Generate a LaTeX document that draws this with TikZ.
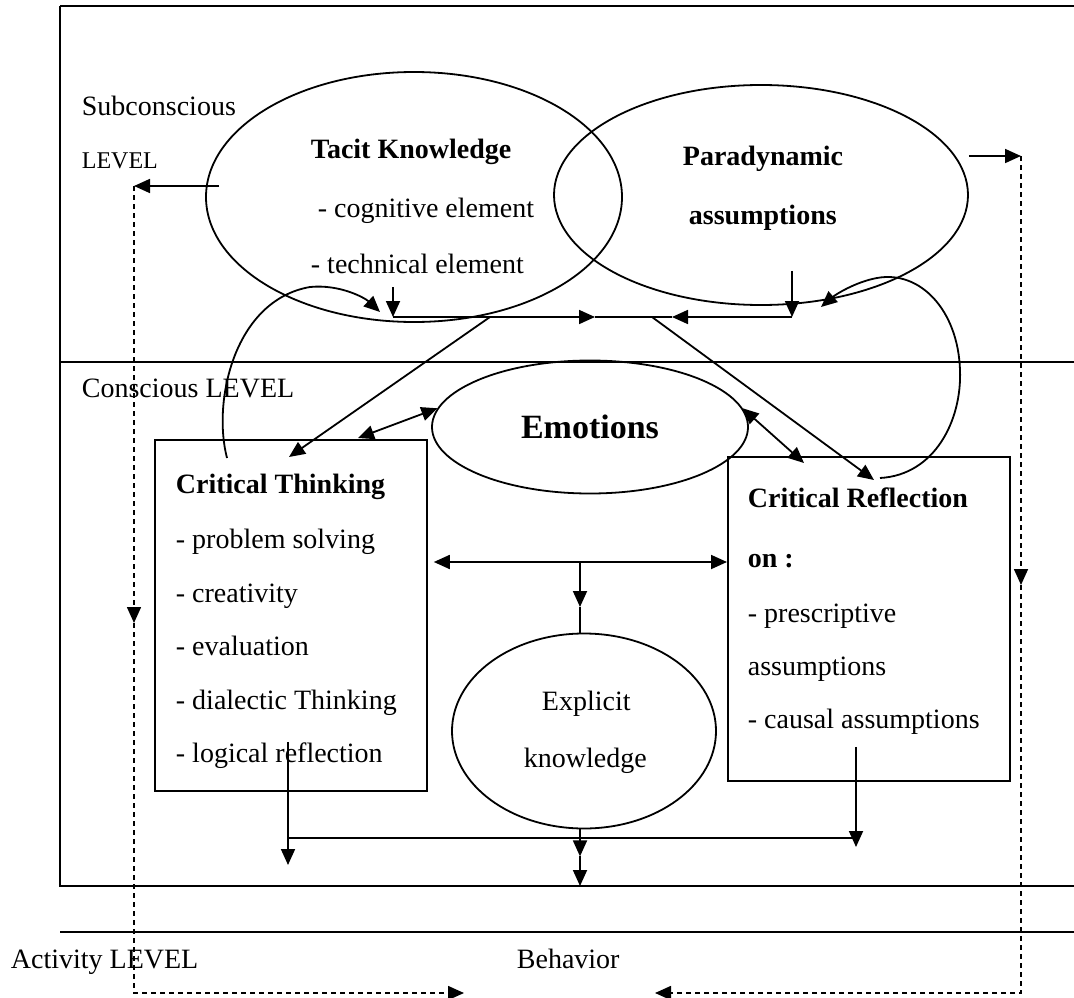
\documentclass[tikz,border=0pt]{standalone}
\usepackage{fontspec}
\setmainfont{Liberation Serif}
\usepackage{tikz}
\usetikzlibrary{arrows.meta,shapes.geometric,calc}

\begin{document}
\begin{tikzpicture}[
  x=1pt, y=-1pt,
  line width=1.8pt,
  oval/.style={draw, ellipse, inner sep=0pt},
  box/.style={draw, rectangle, inner sep=0pt, anchor=north west},
  txt/.style={anchor=base west, inner sep=0pt, font=\fontsize{28}{32}\selectfont},
  btxt/.style={txt, font=\fontsize{28}{32}\selectfont\bfseries},
  arrow/.style={-{Triangle[length=16pt,width=14pt]}},
  twoway/.style={{Triangle[length=16pt,width=14pt]}-{Triangle[length=16pt,width=14pt]}},
  dashline/.style={dash pattern=on 5pt off 4pt, line width=1.6pt}
]
\useasboundingbox (0,0) rectangle (1074,998);

% level frame
\draw (60,6) -- (1074,6);
\draw (60,6) -- (60,886) -- (1074,886);
\draw (60,362) -- (1074,362);
\draw (60,932) -- (1074,932);

\node[txt] (sub) at (81,115) {Subconscious};
\node[txt, font=\fontsize{24}{28}\selectfont] (sublvl) at (81,168) {LEVEL};
\node[txt] (con) at (81,397) {Conscious LEVEL};
\node[txt] (act) at (10,968) {Activity LEVEL};
\node[txt] (beh) at (516,968) {Behavior};

% subconscious
\node[oval, minimum width=416pt, minimum height=250pt] (tacit) at (414,197) {};
\node[oval, minimum width=414pt, minimum height=220pt] (para) at (761,195) {};
\node[btxt] (tk) at (310,158) {Tacit Knowledge};
\node[txt] (tk1) at (317,217) {- cognitive element};
\node[txt] (tk2) at (310,273) {- technical element};
\node[btxt] (pa) at (682,165) {Paradynamic};
\node[btxt] (pa2) at (688,224) {assumptions};

% conscious
\node[oval, minimum width=316pt, minimum height=133pt,
  font=\fontsize{34}{40}\selectfont\bfseries] (emo) at (590,427) {Emotions};
\node[oval, minimum width=264pt, minimum height=195pt] (expl) at (584,731) {};
\node[txt] (ex1) at (541,710) {Explicit};
\node[txt] (ex2) at (523,767) {knowledge};

\node[box, minimum width=272pt, minimum height=351pt] (ct) at (154,439) {};
\node[btxt] (ct0) at (175,493) {Critical Thinking};
\node[txt] (ct1) at (175,548) {- problem solving};
\node[txt] (ct2) at (175,602) {- creativity};
\node[txt] (ct3) at (175,655) {- evaluation};
\node[txt] (ct4) at (175,709) {- dialectic Thinking};
\node[txt] (ct5) at (175,762) {- logical reflection};

\node[box, minimum width=282pt, minimum height=324pt] (cr) at (727,456) {};
\node[btxt] (cr0) at (747,507) {Critical Reflection};
\node[btxt] (cr1) at (747,567) {on :};
\node[txt] (cr2) at (747,622) {- prescriptive};
\node[txt] (cr3) at (747,675) {assumptions};
\node[txt] (cr4) at (747,728) {- causal assumptions};

% junctions
\coordinate (lvlL) at (134,186);
\coordinate (midL) at (134,623);
\coordinate (botL) at (134,993);
\coordinate (behL) at (464,993);
\coordinate (lvlR) at (1021,156);
\coordinate (midR) at (1021,585);
\coordinate (botR) at (1021,993);
\coordinate (behR) at (655,993);
\coordinate (busL) at (393,317);
\coordinate (busA) at (490,317);
\coordinate (busML) at (595,317);
\coordinate (busB) at (652,317);
\coordinate (busMR) at (672,317);
\coordinate (busR) at (792,317);
\coordinate (hub) at (580,562);
\coordinate (junL) at (288,838);
\coordinate (junR) at (856,838);

% dashed paths to behavior
\draw[arrow] ($(tacit.west)+(14,-11)$) -- (lvlL);
\draw[dashline, arrow] (lvlL) -- (midL);
\draw[dashline, arrow] (midL) -- (botL) -- (behL);
\draw[arrow] ($(para.east)+(0,-39)$) -- (lvlR);
\draw[dashline, arrow] (lvlR) -- (midR);
\draw[dashline, arrow] (midR) -- (botR) -- (behR);

% subconscious bus
\draw[arrow] ($(tk2.base west)+(83,14)$) -- (busL);
\draw[arrow] (busL) -- (busML);
\draw (busML) -- (busMR);
\draw[arrow] (busR) -- (busMR);
\draw[arrow] ($(para.south)+(31,-35)$) -- (busR);
\draw[arrow] (busA) -- ($(ct.north west)+(135,18)$);
\draw[arrow] (busB) -- ($(cr.north west)+(147,24)$);

% feedback loops
\draw[arrow] ($(ct.north west)+(73,19)$) .. controls (212,400) and (235,300) .. (310,287)
  .. controls (340,284) and (365,298) .. ($(busL)+(-13,-5)$);
\draw[arrow] ($(cr.north west)+(153,22)$) .. controls (935,475) and (962,420) .. (960,370)
  .. controls (958,310) and (920,270) .. (877,278)
  .. controls (855,282) and (835,295) .. ($(busR)+(29,-10)$);

% emotions
\draw[twoway] ($(ct.north west)+(204,-1)$) -- (emo.173);
\draw[twoway] (emo.7) -- ($(cr.north west)+(77,7)$);

% conscious links
\draw[twoway] ($(ct.north east)+(6,123)$) -- ($(cr.north west)+(0,106)$);
\draw[arrow] (hub) -- ($(hub)+(0,45)$);
\draw ($(hub)+(0,45)$) -- (hub |- expl.north);
\draw[arrow] ($(ct.south west)+(134,-50)$) -- ($(junL)+(0,27)$);
\draw (junL) -- (junR);
\draw[arrow] ($(cr.south west)+(129,-35)$) -- ($(junR)+(0,9)$);
\draw[arrow] (hub |- expl.south) -- ($(hub |- expl.south)+(0,27)$);
\draw[arrow] ($(hub |- expl.south)+(0,27)$) -- (hub |- 0,886);
\end{tikzpicture}
\end{document}
